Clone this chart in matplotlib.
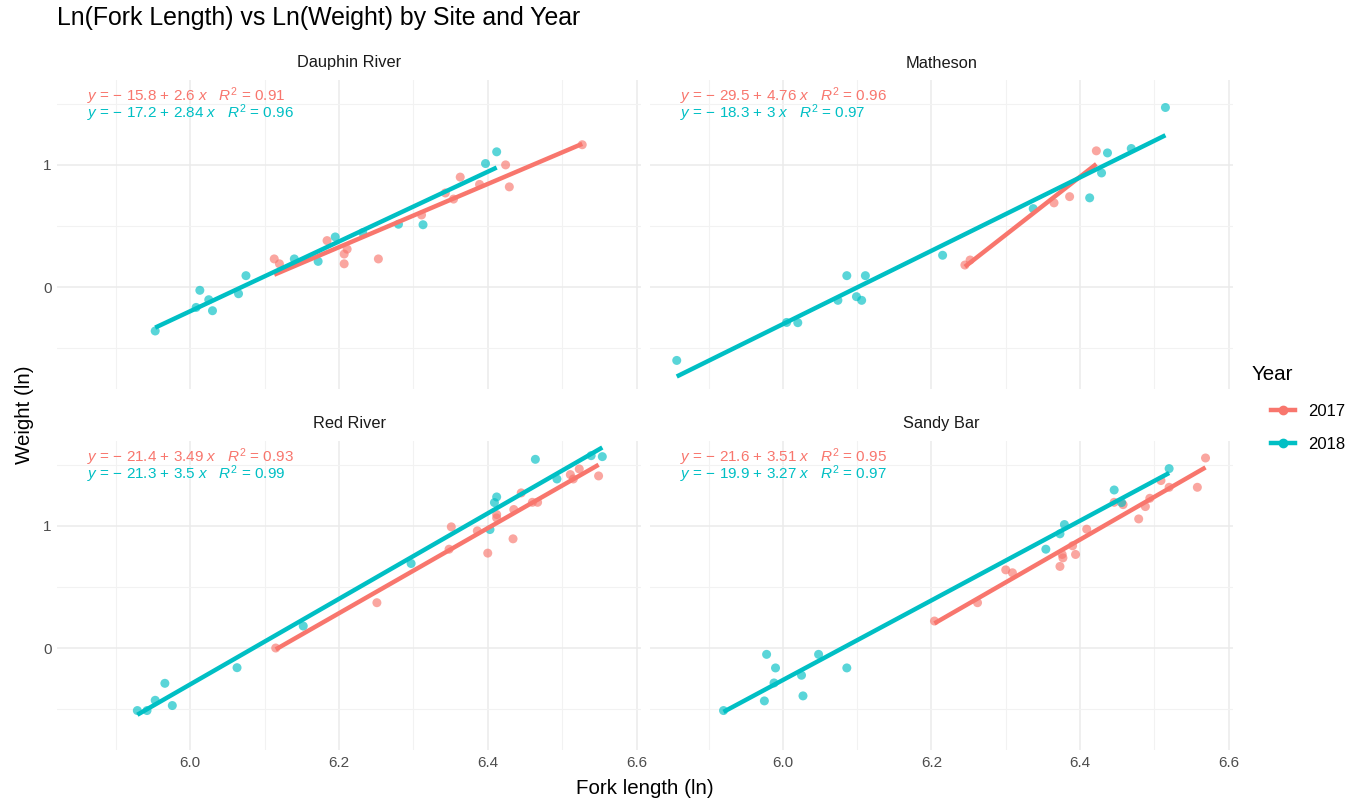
import numpy as np
import matplotlib
matplotlib.use("Agg")
import matplotlib.pyplot as plt
from matplotlib.lines import Line2D

plt.rcParams['font.family'] = ['Liberation Sans', 'DejaVu Sans']
plt.rcParams['mathtext.fontset'] = 'custom'
plt.rcParams['mathtext.rm'] = 'Liberation Sans'
plt.rcParams['mathtext.it'] = 'Liberation Sans:italic'

sites = ['Dauphin River', 'Matheson', 'Red River', 'Sandy Bar']
years = ['2017', '2018']
colors = {'2017': '#F8766D', '2018': '#00BFC4'}

# ln(fork length), ln(weight) per site and year
dauphin_2017_x = [6.113, 6.120, 6.184, 6.207, 6.211, 6.207, 6.253, 6.311, 6.343, 6.354,
                  6.363, 6.389, 6.424, 6.429, 6.527]
dauphin_2017_y = [0.23, 0.19, 0.38, 0.27, 0.31, 0.19, 0.23, 0.59, 0.77, 0.72,
                  0.90, 0.84, 1.00, 0.82, 1.165]
dauphin_2018_x = [5.953, 6.008, 6.013, 6.025, 6.030, 6.065, 6.075, 6.140, 6.172, 6.195,
                  6.232, 6.280, 6.313, 6.397, 6.412]
dauphin_2018_y = [-0.36, -0.167, -0.027, -0.104, -0.194, -0.055, 0.093, 0.23, 0.21, 0.41,
                  0.445, 0.514, 0.51, 1.011, 1.107]

matheson_2017_x = [6.245, 6.252, 6.365, 6.386, 6.422]
matheson_2017_y = [0.18, 0.221, 0.689, 0.740, 1.115]
matheson_2018_x = [5.857, 6.005, 6.020, 6.074, 6.086, 6.099, 6.106, 6.111, 6.215, 6.337,
                   6.413, 6.429, 6.437, 6.469, 6.515]
matheson_2018_y = [-0.601, -0.290, -0.292, -0.109, 0.093, -0.079, -0.109, 0.093, 0.260, 0.642,
                   0.730, 0.934, 1.098, 1.134, 1.470]

red_2017_x = [6.115, 6.251, 6.348, 6.351, 6.386, 6.400, 6.412, 6.412, 6.434, 6.435,
              6.445, 6.460, 6.467, 6.511, 6.515, 6.523, 6.549]
red_2017_y = [0.0, 0.371, 0.809, 0.992, 0.959, 0.777, 1.093, 1.065, 0.894, 1.134,
              1.270, 1.193, 1.193, 1.420, 1.384, 1.466, 1.409]
red_2018_x = [5.929, 5.942, 5.953, 5.966, 5.976, 6.063, 6.152, 6.297, 6.403, 6.409,
              6.412, 6.464, 6.493, 6.539, 6.554]
red_2018_y = [-0.512, -0.512, -0.428, -0.289, -0.471, -0.161, 0.180, 0.692, 0.970, 1.191,
              1.237, 1.545, 1.384, 1.575, 1.567]

sandy_2017_x = [6.204, 6.262, 6.300, 6.309, 6.373, 6.376, 6.377, 6.390, 6.394, 6.409,
                6.446, 6.458, 6.479, 6.488, 6.494, 6.509, 6.520, 6.558, 6.569]
sandy_2017_y = [0.221, 0.371, 0.640, 0.616, 0.668, 0.766, 0.738, 0.837, 0.766, 0.973,
                1.193, 1.174, 1.057, 1.158, 1.226, 1.371, 1.316, 1.316, 1.556]
sandy_2018_x = [5.920, 5.975, 5.978, 5.990, 5.988, 6.025, 6.027, 6.048, 6.086, 6.354,
                6.373, 6.379, 6.446, 6.456, 6.520]
sandy_2018_y = [-0.512, -0.433, -0.052, -0.163, -0.286, -0.223, -0.392, -0.052, -0.163, 0.809,
                0.935, 1.011, 1.294, 1.191, 1.469]

data = {
    'Dauphin River': {'2017': (dauphin_2017_x, dauphin_2017_y), '2018': (dauphin_2018_x, dauphin_2018_y)},
    'Matheson': {'2017': (matheson_2017_x, matheson_2017_y), '2018': (matheson_2018_x, matheson_2018_y)},
    'Red River': {'2017': (red_2017_x, red_2017_y), '2018': (red_2018_x, red_2018_y)},
    'Sandy Bar': {'2017': (sandy_2017_x, sandy_2017_y), '2018': (sandy_2018_x, sandy_2018_y)},
}

eq_labels = {
    'Dauphin River': ['− 15.8 + 2.6', '− 17.2 + 2.84'],
    'Matheson': ['− 29.5 + 4.76', '− 18.3 + 3'],
    'Red River': ['− 21.4 + 3.49', '− 21.3 + 3.5'],
    'Sandy Bar': ['− 21.6 + 3.51', '− 19.9 + 3.27'],
}
r2_labels = {
    'Dauphin River': ['0.91', '0.96'],
    'Matheson': ['0.96', '0.97'],
    'Red River': ['0.93', '0.99'],
    'Sandy Bar': ['0.95', '0.97'],
}

W, H = 1358, 801
fig = plt.figure(figsize=(W / 100, H / 100), dpi=100)

# panel boxes in pixels: left, top, right, bottom
boxes = {
    'Dauphin River': (57, 80, 641, 389),
    'Matheson': (650, 80, 1233, 389),
    'Red River': (57, 441, 641, 750),
    'Sandy Bar': (650, 441, 1233, 750),
}
xlim = (5.821, 6.606)
ylim = (-0.835, 1.695)

for i, site in enumerate(sites):
    l, t, r, b = boxes[site]
    ax = fig.add_axes([l / W, 1 - b / H, (r - l) / W, (b - t) / H])
    ax.set_xlim(*xlim)
    ax.set_ylim(*ylim)
    for s in ax.spines.values():
        s.set_visible(False)
    ax.set_xticks([6.0, 6.2, 6.4, 6.6])
    ax.set_xticks([5.9, 6.1, 6.3, 6.5], minor=True)
    ax.set_yticks([0, 1])
    ax.set_yticks([-0.5, 0.5, 1.5], minor=True)
    ax.grid(which='major', color='#EBEBEB', lw=1.1)
    ax.grid(which='minor', color='#F2F2F2', lw=0.8)
    ax.set_axisbelow(True)
    ax.tick_params(which='both', length=0, labelsize=11, labelcolor='#4D4D4D', pad=4)
    if i < 2:
        ax.set_xticklabels([])
    else:
        ax.set_xticklabels(['6.0', '6.2', '6.4', '6.6'])
    if i % 2 == 1:
        ax.set_yticklabels([])
    ax.set_title(site, fontsize=11.8, color='#1A1A1A', pad=9)

    for j, yr in enumerate(years):
        x, y = data[site][yr]
        x = np.array(x)
        y = np.array(y)
        ax.scatter(x, y, s=42, color=colors[yr], alpha=0.65, edgecolors='none', zorder=3)
        k, c = np.polyfit(x, y, 1)
        xs = np.array([x.min(), x.max()])
        ax.plot(xs, c + k * xs, color=colors[yr], lw=3.2, zorder=4, solid_capstyle='butt')
        label = r'$y$ = ' + eq_labels[site][j] + r' $x$   $R^2$ = ' + r2_labels[site][j]
        ax.text(0.051, 0.946 - j * 0.054, label, transform=ax.transAxes,
                color=colors[yr], fontsize=11, ha='left', va='center', zorder=5)

fig.text(57 / W, 1 - 18 / H, 'Ln(Fork Length) vs Ln(Weight) by Site and Year',
         fontsize=17.9, ha='left', va='center', color='black')
fig.text(645 / W, 1 - 788 / H, 'Fork length (ln)', fontsize=14.8, ha='center', va='center')
fig.text(25 / W, 1 - 415 / H, 'Weight (ln)', fontsize=14.8, ha='center', va='center', rotation=90)

fig.text(1252 / W, 1 - 374 / H, 'Year', fontsize=14.8, ha='left', va='center')
handles = [Line2D([0], [0], color=colors[yr], lw=3.2, marker='o', markersize=6) for yr in years]
fig.legend(handles, years, loc='upper left',
           bbox_to_anchor=(1256 / W, 1 - 389 / H), frameon=False,
           fontsize=12, handlelength=1.45, labelspacing=1.05,
           handletextpad=0.75)

fig.savefig('out.png', dpi=100, facecolor='white')
